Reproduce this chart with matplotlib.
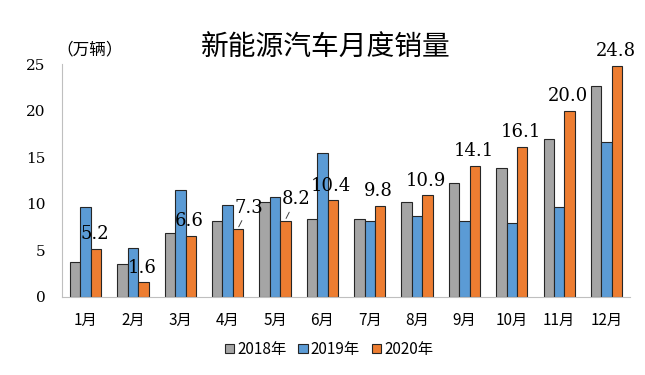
import numpy as np
import matplotlib
matplotlib.use("Agg")
import matplotlib.pyplot as plt

plt.rcParams['font.family'] = ['Noto Sans CJK SC', 'DejaVu Sans']

# data (万辆)
months = ["1月", "2月", "3月", "4月", "5月", "6月", "7月", "8月", "9月", "10月", "11月", "12月"]
sales_2018 = [3.8, 3.5, 6.9, 8.2, 10.2, 8.4, 8.4, 10.2, 12.2, 13.8, 17.0, 22.6]
sales_2019 = [9.7, 5.3, 11.5, 9.9, 10.7, 15.5, 8.2, 8.7, 8.2, 7.9, 9.7, 16.6]
sales_2020 = [5.2, 1.6, 6.6, 7.3, 8.2, 10.4, 9.8, 10.9, 14.1, 16.1, 20.0, 24.8]
series_names = ["2018年", "2019年", "2020年"]
colors = ["#A5A5A5", "#5B9BD5", "#ED7D31"]

fig = plt.figure(figsize=(6.45, 3.75), dpi=100)
ax = fig.add_axes([0.096, 0.208, 0.881, 0.621])

x = np.arange(len(months))
w = 0.22
all_series = [sales_2018, sales_2019, sales_2020]
for i, vals in enumerate(all_series):
    ax.bar(x + (i - 1) * w, vals, width=w, color=colors[i], edgecolor="#262626",
           linewidth=0.8, label=series_names[i])

# data labels on 2020 bars
for xi, v in zip(x, sales_2020):
    xo = xi + w
    if v in (7.3, 8.2):
        ax.annotate(f"{v:.1f}", xy=(xo, v + 0.1), xytext=(xo + 0.22, v + 2.3),
                    ha="center", va="center", fontsize=13, family="DejaVu Serif",
                    arrowprops=dict(arrowstyle="-", color="#404040", lw=0.7,
                                    shrinkA=1, shrinkB=1))
    else:
        ax.text(xo - 0.03, v + 0.6, f"{v:.1f}", ha="center", va="bottom",
                fontsize=13, family="DejaVu Serif")

ax.set_xlim(-0.5, 11.5)
ax.set_ylim(0, 25)
ax.set_yticks([0, 5, 10, 15, 20, 25])
ax.set_yticklabels(["0", "5", "10", "15", "20", "25"], family="DejaVu Serif", fontsize=11)
ax.set_xticks(x)
ax.set_xticklabels(months, fontsize=11)
ax.tick_params(length=0, pad=11)
ax.tick_params(axis="y", pad=12)
for s in ["top", "right"]:
    ax.spines[s].set_visible(False)
ax.spines["left"].set_color("#BFBFBF")
ax.spines["bottom"].set_color("#BFBFBF")

fig.text(0.505, 0.872, "新能源汽车月度销量", ha="center", va="center", fontsize=20)
fig.text(0.088, 0.868, "（万辆）", ha="left", va="center", fontsize=12)

ax.legend(loc="upper center", bbox_to_anchor=(0.47, -0.13), ncol=3, frameon=False,
          fontsize=11, handlelength=0.6, handleheight=0.6, handletextpad=0.2,
          columnspacing=0.8)

fig.savefig("out.png", dpi=100)
